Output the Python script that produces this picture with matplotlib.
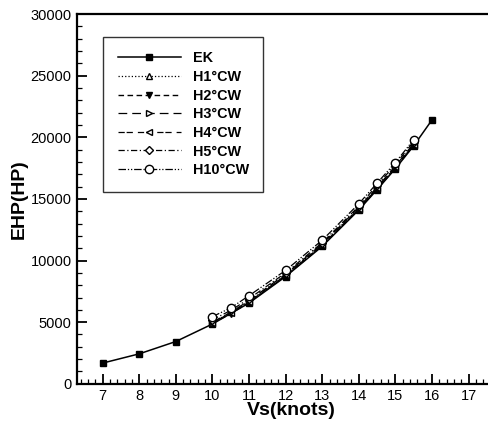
import matplotlib.pyplot as plt
from matplotlib.ticker import MultipleLocator

plt.rcParams['font.family'] = ['Liberation Sans', 'DejaVu Sans']

# EK (bare hull) curve
ek_speed = [7, 8, 9, 10, 11, 12, 13, 14, 14.5, 15, 15.5, 16]
ek_ehp = [1680, 2430, 3430, 4850, 6550, 8700, 11150, 14100, 15750, 17450, 19300, 21400]

# hull variants share the same speeds
h_speed = [10, 10.5, 11, 12, 13, 14, 14.5, 15, 15.5]
h1_ehp = [4950, 5800, 6700, 8850, 11300, 14250, 15900, 17600, 19450]
h2_ehp = [4900, 5700, 6600, 8750, 11200, 14150, 15800, 17500, 19350]
h3_ehp = [5000, 5800, 6750, 8900, 11350, 14300, 15950, 17650, 19500]
h4_ehp = [4950, 5750, 6650, 8800, 11250, 14200, 15850, 17550, 19400]
h5_ehp = [5200, 5950, 6900, 9000, 11450, 14400, 16100, 17800, 19650]
h10_ehp = [5450, 6150, 7150, 9200, 11650, 14600, 16280, 17950, 19800]

fig = plt.figure(figsize=(4.88, 4.25), dpi=100)
ax = fig.add_axes([0.158, 0.097, 0.877, 0.870])

ms = 5
ax.plot(ek_speed, ek_ehp, 'k-', marker='s', ms=4, lw=1.1, label='EK')
ax.plot(h_speed, h1_ehp, color='k', ls=':', marker='^', mfc='white', ms=ms, lw=0.9, label='H1°CW')
ax.plot(h_speed, h2_ehp, color='k', ls=(0, (4, 2.5)), marker='v', ms=ms, lw=1.0, label='H2°CW')
ax.plot(h_speed, h3_ehp, color='k', ls=(0, (7, 4)), marker='>', mfc='white', ms=ms, lw=0.9, label='H3°CW')
ax.plot(h_speed, h4_ehp, color='k', ls=(0, (5, 1.5, 5, 4)), marker='<', mfc='white', ms=ms, lw=0.9, label='H4°CW')
ax.plot(h_speed, h5_ehp, color='k', ls=(0, (5, 2, 1, 2)), marker='D', mfc='white', ms=4, lw=0.9, label='H5°CW')
ax.plot(h_speed, h10_ehp, color='k', ls=(0, (6, 1.5, 1, 1.5, 1, 1.5)), marker='o', mfc='white', ms=6, lw=0.9, label='H10°CW')

ax.set_xlim(6.3, 18)
ax.set_ylim(0, 30000)
ax.xaxis.set_major_locator(MultipleLocator(1))
ax.xaxis.set_minor_locator(MultipleLocator(0.2))
ax.yaxis.set_major_locator(MultipleLocator(5000))
ax.yaxis.set_minor_locator(MultipleLocator(1000))
ax.set_xticks(range(7, 18))
ax.tick_params(which='major', direction='in', length=7, width=1.3, labelsize=10.5, pad=4)
ax.tick_params(which='minor', direction='in', length=3.5, width=0.9)
for s in ax.spines.values():
    s.set_linewidth(1.6)

ax.set_xlabel('Vs(knots)', fontsize=14, fontweight='bold', labelpad=-1)
ax.set_ylabel('EHP(HP)', fontsize=14, fontweight='bold', labelpad=2)

leg = ax.legend(loc='upper left', bbox_to_anchor=(0.061, 0.938), borderaxespad=0,
                prop={'weight': 'bold', 'size': 10.4}, frameon=True, fancybox=False,
                edgecolor='black', handlelength=4.4, labelspacing=0.32,
                borderpad=1.0, handletextpad=0.8)
leg.get_frame().set_linewidth(1.0)

plt.savefig('out.png', dpi=100)
